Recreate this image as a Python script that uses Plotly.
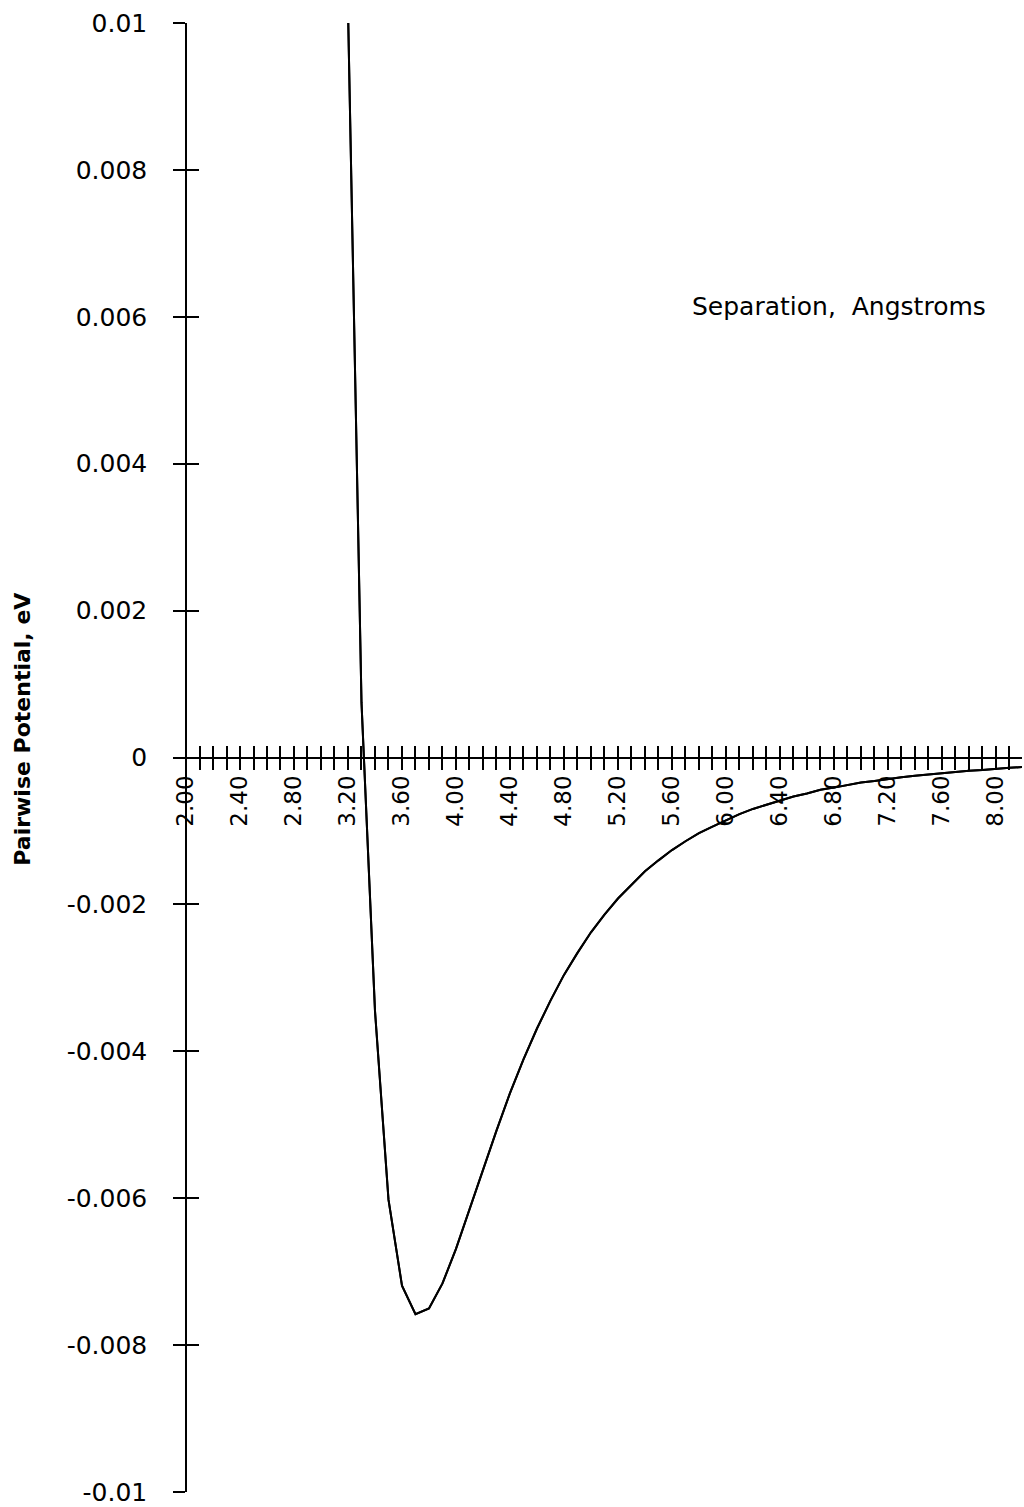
import plotly.graph_objects as go

# Separation (Angstroms) and pairwise potential (eV)
separation = [3.2, 3.3, 3.4, 3.5, 3.6, 3.7, 3.8, 3.9, 4.0, 4.1,
              4.2, 4.3, 4.4, 4.5, 4.6, 4.7, 4.8, 4.9, 5.0, 5.1,
              5.2, 5.3, 5.4, 5.5, 5.6, 5.7, 5.8, 5.9, 6.0, 6.1,
              6.2, 6.3, 6.4, 6.5, 6.6, 6.7, 6.8, 6.9, 7.0, 7.1,
              7.2, 7.3, 7.4, 7.5, 7.6, 7.7, 7.8, 7.9, 8.0, 8.1, 8.2]
potential = [0.0102, 0.00075, -0.00345, -0.00602, -0.00719, -0.00758, -0.00750, -0.00716, -0.00669, -0.00615,
             -0.00561, -0.00508, -0.00457, -0.00411, -0.00369, -0.00331, -0.00296, -0.00266, -0.00238, -0.00214,
             -0.00192, -0.00173, -0.00155, -0.00140, -0.00126, -0.00114, -0.00103, -0.00094, -0.00085, -0.00077,
             -0.00070, -0.00064, -0.00058, -0.00053, -0.00049, -0.00044, -0.00041, -0.00037, -0.00034, -0.00032,
             -0.00029, -0.00027, -0.00025, -0.00023, -0.00021, -0.00019, -0.00018, -0.00017, -0.00015, -0.00014, -0.00013]

x_label_values = [2.0, 2.4, 2.8, 3.2, 3.6, 4.0, 4.4, 4.8, 5.2, 5.6, 6.0, 6.4, 6.8, 7.2, 7.6, 8.0]
x_tick_labels = ["2.00", "2.40", "2.80", "3.20", "3.60", "4.00", "4.40", "4.80",
                 "5.20", "5.60", "6.00", "6.40", "6.80", "7.20", "7.60", "8.00"]
y_tick_values = [0.01, 0.008, 0.006, 0.004, 0.002, 0, -0.002, -0.004, -0.006, -0.008, -0.01]
y_tick_labels = ["0.01", "0.008", "0.006", "0.004", "0.002", "0",
                 "-0.002", "-0.004", "-0.006", "-0.008", "-0.01"]

FONT = "DejaVu Sans"
X_RANGE = [2.0, 8.193]
Y_RANGE = [-0.01, 0.01]

fig = go.Figure()
fig.add_trace(go.Scatter(x=separation, y=potential, mode="lines",
                         line=dict(color="black", width=2), showlegend=False,
                         hoverinfo="skip"))
fig.add_trace(go.Scatter(x=separation, y=potential, mode="lines", xaxis="x2", yaxis="y2",
                         line=dict(color="black", width=2), showlegend=False,
                         hoverinfo="skip"))

axis_common = dict(showgrid=False, zeroline=False, linecolor="black", linewidth=1.5,
                   tickcolor="black", tickwidth=1.5, ticklen=12)

fig.update_layout(
    width=1024, height=1507,
    margin=dict(l=186, r=2, t=23, b=15, autoexpand=False),
    paper_bgcolor="white", plot_bgcolor="white",
    font=dict(family=FONT, color="black", size=24),
    xaxis=dict(range=X_RANGE, domain=[0, 1], anchor="free", position=0.5,
               tickmode="array", tickvals=x_label_values, ticktext=x_tick_labels,
               ticks="outside", showline=True, tickangle=-90,
               tickfont=dict(family=FONT, size=23), ticklabelstandoff=-4,
               minor=dict(tick0=2.0, dtick=0.1, ticks="outside", ticklen=12,
                          tickcolor="black", tickwidth=1.5),
               **axis_common),
    xaxis2=dict(range=X_RANGE, domain=[0, 1], anchor="free", position=0.5, overlaying="x",
                tickmode="array", tickvals=x_label_values, showticklabels=False,
                ticks="inside", showline=False,
                minor=dict(tick0=2.0, dtick=0.1, ticks="inside", ticklen=12,
                           tickcolor="black", tickwidth=1.5),
                **axis_common),
    yaxis=dict(range=Y_RANGE, domain=[0, 1], anchor="free", position=0,
               tickmode="array", tickvals=y_tick_values, ticktext=y_tick_labels,
               ticks="outside", showline=True,
               tickfont=dict(family=FONT, size=25), ticklabelstandoff=21,
               **axis_common),
    yaxis2=dict(range=Y_RANGE, domain=[0, 1], anchor="free", position=0, overlaying="y",
                side="left", tickmode="array", tickvals=y_tick_values,
                showticklabels=False, ticks="inside", showline=False,
                **axis_common),
    annotations=[
        dict(text="<b>Pairwise Potential, eV</b>", textangle=-90,
             xref="paper", yref="paper", x=-0.196, y=0.519,
             xanchor="center", yanchor="middle", showarrow=False,
             font=dict(family=FONT, size=22, color="black")),
        dict(text="Separation,  Angstroms",
             xref="paper", yref="paper", x=0.781, y=0.807,
             xanchor="center", yanchor="middle", showarrow=False,
             font=dict(family=FONT, size=25, color="black")),
    ],
)

fig.write_html("out.html", config={"displayModeBar": False},
               post_script="document.body.style.margin='0';document.body.style.overflow='hidden';")
